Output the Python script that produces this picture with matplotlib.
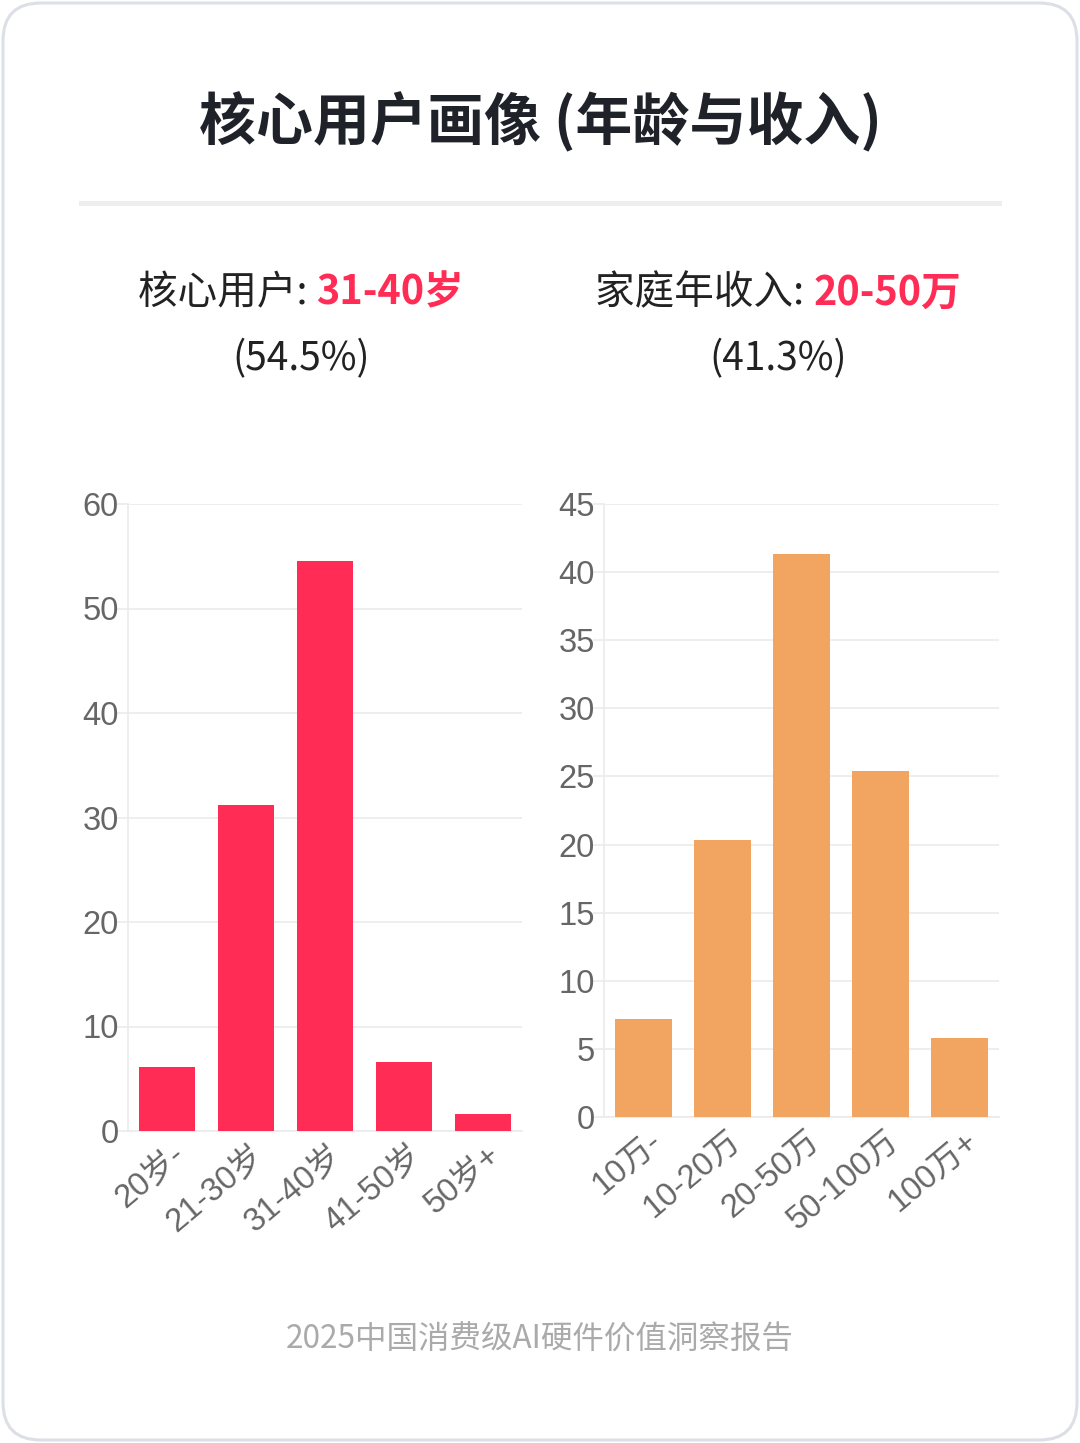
import matplotlib
matplotlib.use("Agg")
import matplotlib.pyplot as plt
import matplotlib.transforms as mtransforms
from matplotlib.patches import FancyBboxPatch
from matplotlib.lines import Line2D

plt.rcParams['font.family'] = ['Noto Sans CJK SC', 'DejaVu Sans']

# ---- data ----
age_labels = ["20岁-", "21-30岁", "31-40岁", "41-50岁", "50岁+"]
age_values = [6.1, 31.2, 54.5, 6.6, 1.6]
income_labels = ["10万-", "10-20万", "20-50万", "50-100万", "100万+"]
income_values = [7.2, 20.3, 41.3, 25.4, 5.8]

title = "核心用户画像 (年龄与收入)"
sub_left = ("核心用户: ", "31-40岁", "(54.5%)")
sub_right = ("家庭年收入: ", "20-50万", "(41.3%)")
footer = "2025中国消费级AI硬件价值洞察报告"

RED = "#FF2D55"
ORANGE = "#F2A461"
GRID = "#EBEBEB"
TICK = "#666666"

W, H = 1080, 1443
fig = plt.figure(figsize=(W / 100, H / 100), dpi=100)
fig.patch.set_facecolor("white")

def fx(px):
    return px / W

def fy(py):
    return 1 - py / H

# card
card = FancyBboxPatch((fx(3), fy(1440)), fx(1074), 1437 / H,
                      boxstyle="round,pad=0,rounding_size=0.035",
                      transform=fig.transFigure, facecolor="white",
                      edgecolor="#DCDFE5", linewidth=2.2,
                      mutation_aspect=W / H, zorder=-10)
fig.patches.append(card)

# title
fig.text(0.5, fy(122), title, ha="center", va="center", fontsize=41,
         fontweight="bold", color="#1F2329")
fig.add_artist(Line2D([fx(81), fx(999)], [fy(203), fy(203)],
                      transform=fig.transFigure, color="#EEEEEE",
                      linewidth=3.6, zorder=-5))

renderer = fig.canvas.get_renderer()

def two_color(cx, cy, a, b, size=28.5):
    t1 = fig.text(0, cy, a, ha="left", va="center", fontsize=size, color="#222222")
    t2 = fig.text(0, cy, b, ha="left", va="center", fontsize=size, color=RED,
                  fontweight="bold")
    w1 = t1.get_window_extent(renderer).width
    w2 = t2.get_window_extent(renderer).width
    start = cx * W - (w1 + w2) / 2
    t1.set_x(start / W)
    t2.set_x((start + w1) / W)

two_color(fx(301), fy(293), sub_left[0], sub_left[1])
fig.text(fx(301), fy(359), sub_left[2], ha="center", va="center", fontsize=28,
         color="#222222")
two_color(fx(778), fy(293), sub_right[0], sub_right[1])
fig.text(fx(778), fy(359), sub_right[2], ha="center", va="center", fontsize=28,
         color="#222222")

def make_ax(rect, labels, values, color, ymax, step):
    ax = fig.add_axes(rect)
    ax.set_zorder(5)
    x = list(range(len(labels)))
    ax.bar(x, values, width=0.71, color=color, zorder=3)
    ax.set_xlim(-0.5, len(labels) - 0.5)
    ax.set_ylim(0, ymax)
    ax.set_yticks(list(range(0, ymax + 1, step)))
    ax.set_xticks(x)
    ax.set_xticklabels(labels, rotation=40, ha="right", va="top",
                       rotation_mode="anchor", fontsize=23.5, color=TICK)
    ax.tick_params(axis="y", labelsize=23.5, labelcolor=TICK, color=GRID,
                   length=8, width=1.2, pad=-1.5)
    ax.tick_params(axis="x", length=0, pad=6)
    offset = mtransforms.ScaledTranslation(4 / 100, 0, fig.dpi_scale_trans)
    for lab in ax.get_xticklabels():
        lab.set_family(['Liberation Sans', 'Noto Sans CJK SC'])
        lab.set_transform(lab.get_transform() + offset)
    for lab in ax.get_yticklabels():
        lab.set_family(['Liberation Sans', 'Noto Sans CJK SC'])
    ax.grid(axis="y", color=GRID, linewidth=1.2, zorder=0)
    for s in ["top", "right"]:
        ax.spines[s].set_visible(False)
    for s in ["left", "bottom"]:
        ax.spines[s].set_color(GRID)
        ax.spines[s].set_linewidth(1.2)
    ax.set_facecolor("none")
    return ax

make_ax([fx(128), fy(1131), fx(522 - 128), (1131 - 504) / H],
        age_labels, age_values, RED, 60, 10)
make_ax([fx(604), fy(1117), fx(999 - 604), (1117 - 504) / H],
        income_labels, income_values, ORANGE, 45, 5)

fig.text(0.5, fy(1340), footer, ha="center", va="center", fontsize=22.7,
         color="#AAAAAA")

fig.savefig("out.png", dpi=100)
